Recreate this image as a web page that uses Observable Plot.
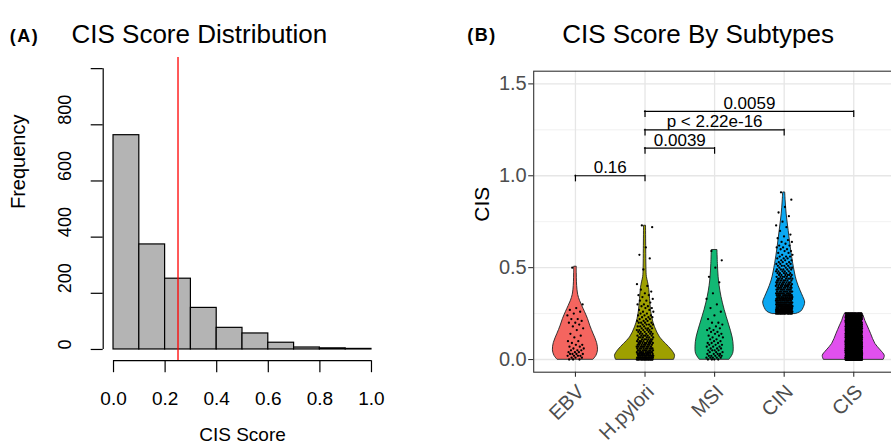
<!DOCTYPE html>
<html><head><meta charset="utf-8">
<script src="https://cdn.jsdelivr.net/npm/d3@7"></script>
<script src="https://cdn.jsdelivr.net/npm/@observablehq/plot@0.6"></script>
<style>
html,body{margin:0;padding:0;background:#fff;overflow:hidden;}
#wrap{position:relative;width:891px;height:444px;overflow:hidden;background:#fff;}
#a{position:absolute;left:0;top:0;width:445px;height:444px;}
#b{position:absolute;left:445px;top:0;width:460px;height:444px;}
#wrap svg{max-width:none !important;}
</style></head><body><div id="wrap"><div id="a"></div><div id="b"></div></div>
<script>
const FONT = '"Liberation Sans", Arial, Helvetica, sans-serif';

// ---------- Panel A data ----------
const histBreaks = [0, 0.1, 0.2, 0.3, 0.4, 0.5, 0.6, 0.7, 0.8, 0.9, 1.0];
const histCounts = [763, 374, 252, 148, 77, 57, 24, 7, 4, 2];
const cisThreshold = 0.25;
const histXTicks = [0, 0.2, 0.4, 0.6, 0.8, 1.0];
const histYTicks = [0, 200, 400, 600, 800, 1000];
const histYLabels = [0, 200, 400, 600, 800];
const histXRange = [0, 1];
const histYRange = [0, 1000];

// ---------- Panel B data ----------
const subtypes = ["EBV", "H.pylori", "MSI", "CIN", "CIS"];
const subtypeColors = ["#F4655F", "#9EA000", "#12B874", "#0BA8F2", "#E150EE"];
// violin profiles: [CIS value, relative density]
const ebvViolin = [[0,0.58],[0.02,0.67],[0.05,0.72],[0.09,0.69],[0.14,0.575],[0.18,0.48],[0.22,0.40],[0.26,0.30],[0.29,0.22],[0.32,0.144],[0.35,0.09],[0.38,0.064],[0.42,0.048],[0.47,0.042],[0.505,0.042]];
const hpyloriViolin = [[0,0.93],[0.02,0.96],[0.05,0.86],[0.085,0.67],[0.12,0.48],[0.175,0.32],[0.22,0.24],[0.27,0.19],[0.33,0.16],[0.39,0.128],[0.42,0.096],[0.45,0.058],[0.5,0.045],[0.6,0.038],[0.728,0.032]];
const msiViolin = [[0,0.48],[0.03,0.59],[0.07,0.61],[0.12,0.575],[0.19,0.46],[0.27,0.32],[0.34,0.22],[0.40,0.16],[0.45,0.128],[0.52,0.105],[0.596,0.09]];
const cinViolin = [[0.248,0.38],[0.26,0.54],[0.28,0.62],[0.31,0.67],[0.34,0.61],[0.375,0.52],[0.43,0.40],[0.52,0.29],[0.61,0.21],[0.70,0.144],[0.79,0.08],[0.86,0.048],[0.909,0.032]];
const cisViolin = [[0,0.96],[0.02,0.99],[0.05,0.86],[0.085,0.69],[0.14,0.55],[0.18,0.45],[0.21,0.37],[0.235,0.32],[0.252,0.27]];
// jittered samples: [CIS value, number of samples]
const ebvPoints = [[0.50,1],[0.30,1],[0.28,1],[0.27,1],[0.26,1],[0.25,1],[0.24,1],[0.22,2],[0.21,1],[0.20,2],[0.19,1],[0.18,1],[0.17,1],[0.16,1],[0.14,1],[0.13,1],[0.12,1],[0.10,2],[0.09,1],[0.08,2],[0.07,2],[0.06,2],[0.05,3],[0.04,3],[0.03,4],[0.02,4],[0.01,3],[0.00,3]];
const hpyloriPoints = [[0.73,1],[0.72,1],[0.61,1],[0.57,1],[0.55,1],[0.49,1],[0.41,1],[0.40,1],[0.38,1],[0.37,1],[0.36,1],[0.35,2],[0.34,1],[0.33,1],[0.32,2],[0.31,1],[0.30,2],[0.29,2],[0.28,2],[0.27,2],[0.26,2],[0.25,2],[0.24,3],[0.23,3],[0.22,3],[0.21,3],[0.20,4],[0.19,4],[0.18,4],[0.17,4],[0.16,5],[0.15,5],[0.14,5],[0.13,6],[0.12,6],[0.11,7],[0.10,7],[0.09,8],[0.08,8],[0.07,9],[0.06,9],[0.05,10],[0.04,11],[0.03,12],[0.02,14],[0.01,15],[0.00,20]];
const msiPoints = [[0.59,1],[0.54,1],[0.50,1],[0.45,1],[0.42,1],[0.36,1],[0.33,1],[0.30,1],[0.28,1],[0.26,1],[0.24,1],[0.22,1],[0.20,2],[0.19,1],[0.18,1],[0.17,2],[0.16,2],[0.15,2],[0.14,2],[0.13,2],[0.12,2],[0.11,2],[0.10,2],[0.09,3],[0.08,3],[0.07,3],[0.06,3],[0.05,4],[0.04,3],[0.03,4],[0.02,5],[0.01,5],[0.00,4]];
const cinPoints = [[0.91,1],[0.87,1],[0.83,1],[0.80,1],[0.78,1],[0.75,1],[0.73,1],[0.72,1],[0.70,1],[0.68,1],[0.67,1],[0.66,1],[0.65,1],[0.64,2],[0.63,1],[0.62,2],[0.61,2],[0.60,2],[0.59,2],[0.58,2],[0.57,2],[0.56,3],[0.55,3],[0.54,3],[0.53,3],[0.52,4],[0.51,4],[0.50,4],[0.49,5],[0.48,5],[0.47,5],[0.46,6],[0.45,6],[0.44,7],[0.43,7],[0.42,8],[0.41,8],[0.40,9],[0.39,9],[0.38,10],[0.37,10],[0.36,11],[0.35,12],[0.34,13],[0.33,14],[0.32,15],[0.31,16],[0.30,17],[0.29,18],[0.28,20],[0.27,22],[0.26,25],[0.25,20]];
const cisPoints = [[0.25,20],[0.24,28],[0.23,29],[0.22,29],[0.21,30],[0.20,30],[0.19,31],[0.18,32],[0.17,33],[0.16,34],[0.15,35],[0.14,36],[0.13,37],[0.12,38],[0.11,40],[0.10,42],[0.09,44],[0.08,46],[0.07,48],[0.06,50],[0.05,52],[0.04,55],[0.03,58],[0.02,60],[0.01,65],[0.00,70]];
const signifTests = [
  {from: "EBV", to: "H.pylori", y: 1.0, label: "0.16"},
  {from: "H.pylori", to: "MSI", y: 1.15, label: "0.0039"},
  {from: "H.pylori", to: "CIN", y: 1.25, label: "p < 2.22e-16"},
  {from: "H.pylori", to: "CIS", y: 1.35, label: "0.0059"}
];
const tipLength = 0.03;
const yTicksB = [0, 0.5, 1.0, 1.5];
const yMinorB = [0.25, 0.75, 1.25];
const yDomainB = [-0.069, 1.569];

// ---------- Panel A ----------
const bins = histCounts.map((c, i) => ({x1: histBreaks[i], x2: histBreaks[i + 1], count: c}));
const padX = 0.04 * (histXRange[1] - histXRange[0]);
const padY = 0.04 * (histYRange[1] - histYRange[0]);

const chartA = Plot.plot({
  width: 445, height: 444,
  marginLeft: 102.7, marginRight: 63.7, marginTop: 56.9, marginBottom: 83.8,
  style: {fontFamily: FONT, background: "#fff", color: "#000", overflow: "visible", maxWidth: "none"},
  x: {domain: [histXRange[0] - padX, histXRange[1] + padX]},
  y: {domain: [histYRange[0] - padY, histYRange[1] + padY]},
  marks: [
    Plot.rect(bins, {x1: "x1", x2: "x2", y1: 0, y2: "count", fill: "#B4B4B4", stroke: "#000", strokeWidth: 1.2}),
    Plot.ruleX([cisThreshold], {stroke: "#FF0000", strokeWidth: 1.3}),
    Plot.ruleY([histYRange[0] - padY], {x1: histXRange[0], x2: histXRange[1], stroke: "#000", strokeWidth: 1.2}),
    Plot.ruleX([histXRange[0] - padX], {y1: histYRange[0], y2: histYRange[1], stroke: "#000", strokeWidth: 1.2}),
    Plot.axisX(histXTicks, {tickSize: 12, tickPadding: 19, fontSize: 19, tickFormat: d3.format(".1f"), label: null, strokeWidth: 1.2}),
    Plot.axisY(histYTicks, {tickSize: 12, tickFormat: () => "", label: null, strokeWidth: 1.2}),
    Plot.text(histYLabels, {y: d => d, frameAnchor: "left", text: d => String(d), rotate: -90, dx: -37.7, fontSize: 18}),
    Plot.text(["Frequency"], {frameAnchor: "left", rotate: -90, dx: -85, fontSize: 20}),
    Plot.text(["CIS Score"], {x: (histXRange[0] + histXRange[1]) / 2, frameAnchor: "bottom", lineAnchor: "top", dy: 66.8, fontSize: 19}),
    Plot.text(["CIS Score Distribution"], {frameAnchor: "top-left", textAnchor: "start", dx: -31.7, dy: -32.7, fontSize: 26}),
    Plot.text(["(A)"], {frameAnchor: "top-left", textAnchor: "start", dx: -93.4, dy: -27.9, fontSize: 18, fontWeight: "bold"})
  ]
});
document.getElementById("a").appendChild(chartA);

// ---------- Panel B ----------
const idx = g => subtypes.indexOf(g) + 1;
const violins = [ebvViolin, hpyloriViolin, msiViolin, cinViolin, cisViolin];
const pointSets = [ebvPoints, hpyloriPoints, msiPoints, cinPoints, cisPoints];
const maxHalfWidth = 0.45;
const jitterHalf = 0.12;
const violinRows = violins.flatMap((prof, i) => prof.map(([v, d]) => ({g: subtypes[i], v, d})));
const dotRows = [];
pointSets.forEach((set, i) => {
  let k = 0;
  set.forEach(([v, n]) => { for (let j = 0; j < n; j++) { dotRows.push({g: subtypes[i], v, k: k++}); } });
});
const jit = k => ((k * 0.6180339887 + 0.31) % 1) - 0.5;
const legs = signifTests.flatMap(t => [{g: t.from, y: t.y}, {g: t.to, y: t.y}]);

const chartB = Plot.plot({
  width: 460, height: 444,
  marginLeft: 88.2, marginRight: 10, marginTop: 70.7, marginBottom: 72.3,
  style: {fontFamily: FONT, background: "#fff", color: "#000", overflow: "visible", maxWidth: "none"},
  x: {domain: [0.4, subtypes.length + 0.6]},
  y: {domain: yDomainB},
  color: {domain: subtypes, range: subtypeColors},
  marks: [
    Plot.ruleY(yMinorB, {stroke: "#EEEEEE", strokeWidth: 0.8}),
    Plot.ruleY(yTicksB, {stroke: "#E6E6E6", strokeWidth: 1.3}),
    Plot.ruleX(subtypes, {x: d => idx(d), stroke: "#E6E6E6", strokeWidth: 1.3}),
    Plot.areaX(violinRows, {y: "v", x1: d => idx(d.g) - d.d * maxHalfWidth, x2: d => idx(d.g) + d.d * maxHalfWidth, z: "g", fill: "g", stroke: "#222", strokeWidth: 0.9, curve: "catmull-rom"}),
    Plot.dot(dotRows, {x: d => idx(d.g) + jit(d.k) * 2 * jitterHalf, y: "v", r: 1.15, fill: "#000", stroke: null}),
    Plot.ruleY(signifTests, {y: "y", x1: d => idx(d.from), x2: d => idx(d.to), stroke: "#000", strokeWidth: 1.2, strokeLinecap: "square"}),
    Plot.ruleX(legs, {x: d => idx(d.g), y1: d => d.y - tipLength, y2: "y", stroke: "#000", strokeWidth: 1.2, strokeLinecap: "square"}),
    Plot.text(signifTests, {x: d => (idx(d.from) + idx(d.to)) / 2, y: "y", text: "label", lineAnchor: "bottom", dy: -2.5, fontSize: 17}),
    Plot.frame({stroke: "#333", strokeWidth: 1.1}),
    Plot.axisY(yTicksB, {tickSize: 5, tickFormat: () => "", label: null, stroke: "#333", strokeWidth: 1.1}),
    Plot.axisX(subtypes.map((d, i) => i + 1), {tickSize: 5, tickFormat: () => "", label: null, stroke: "#333", strokeWidth: 1.1}),
    Plot.text(yTicksB, {y: d => d, frameAnchor: "left", textAnchor: "end", dx: -7, text: d => d.toFixed(1), fontSize: 20, fill: "#4D4D4D"}),
    Plot.text(subtypes, {x: d => idx(d), frameAnchor: "bottom", rotate: -45, textAnchor: "end", lineAnchor: "top", dy: 10.8, fontSize: 20, fill: "#4D4D4D"}),
    Plot.text(["CIS"], {frameAnchor: "left", rotate: -90, dx: -51.9, fontSize: 21}),
    Plot.text(["CIS Score By Subtypes"], {frameAnchor: "top-left", textAnchor: "start", dx: 28.5, dy: -46.7, fontSize: 26}),
    Plot.text(["(B)"], {frameAnchor: "top-left", textAnchor: "start", dx: -66.5, dy: -43.2, fontSize: 18, fontWeight: "bold"})
  ]
});
document.getElementById("b").appendChild(chartB);

// panel tags are drawn slightly letter-spaced, as in the reference
for (const svg of [chartA, chartB]) {
  svg.querySelectorAll("text").forEach(t => {
    if (t.textContent === "(A)" || t.textContent === "(B)") t.style.letterSpacing = "1.5px";
  });
}
</script></body></html>
